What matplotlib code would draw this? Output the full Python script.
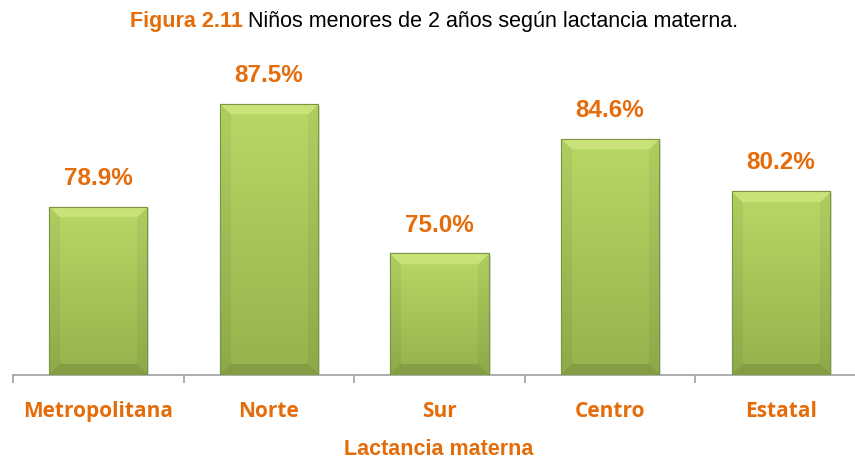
import matplotlib
matplotlib.use("Agg")
import matplotlib.pyplot as plt
import numpy as np

regions = ["Metropolitana", "Norte", "Sur", "Centro", "Estatal"]
values = [78.9, 87.5, 75.0, 84.6, 80.2]
value_labels = ["78.9%", "87.5%", "75.0%", "84.6%", "80.2%"]

ORANGE = "#e46c0a"
NARROW = ["Liberation Sans", "DejaVu Sans"]
LABEL_FONT = ["Open Sans", "DejaVu Sans"]

fig = plt.figure(figsize=(8.55, 4.61), dpi=100)
W, H = 855, 461
ax = fig.add_axes([13 / W, 86 / H, 853 / W, 301 / H])
ymin, ymax = 64.8, 90.0
ax.set_xlim(-0.5, len(regions) - 0.5)
ax.set_ylim(ymin, ymax)

x = np.arange(len(regions))
bar_w = 0.575


def bevel_image(wpx, hpx, bevel=11):
    hpx = max(int(hpx), 2)
    wpx = max(int(wpx), 2)
    top = np.array([0.72, 0.85, 0.40])
    bot = np.array([0.58, 0.70, 0.30])
    t = np.linspace(0, 1, hpx)[:, None, None]
    img = top * (1 - t) + bot * t
    img = np.repeat(img, wpx, axis=1)
    yy, xx = np.mgrid[0:hpx, 0:wpx]
    d_top = yy
    d_bot = hpx - 1 - yy
    d_left = xx
    d_right = wpx - 1 - xx
    dmin = np.minimum.reduce([d_top, d_bot, d_left, d_right])
    edge = dmin < bevel
    top_face = edge & (d_top == dmin)
    bot_face = edge & (d_bot == dmin) & ~top_face
    side_face = edge & ~top_face & ~bot_face
    img[top_face] = img[top_face] * 0.55 + np.array([0.88, 0.95, 0.58]) * 0.45
    img[side_face] = img[side_face] * 0.95
    img[bot_face] = img[bot_face] * 0.88
    return img


fig.canvas.draw()
px_per_x = ax.transData.transform((1, 0))[0] - ax.transData.transform((0, 0))[0]
px_per_y = ax.transData.transform((0, 1))[1] - ax.transData.transform((0, 0))[1]

bars = ax.bar(x, np.array(values) - ymin, bottom=ymin, width=bar_w,
              color="#a9cc5a", edgecolor="#7d9440", linewidth=0.8, zorder=2)
for b in bars:
    # soft shadow
    ax.add_patch(plt.Rectangle((b.get_x() + 0.012, ymin), b.get_width(), b.get_height() - 0.15,
                               facecolor="#000000", alpha=0.12, edgecolor="none", zorder=1))
    img = bevel_image(b.get_width() * px_per_x, b.get_height() * px_per_y)
    im = ax.imshow(img, extent=(b.get_x(), b.get_x() + b.get_width(), ymin, ymin + b.get_height()),
                   aspect="auto", zorder=3, interpolation="bilinear")
    im.set_clip_path(b)
    ax.add_patch(plt.Rectangle((b.get_x(), ymin), b.get_width(), b.get_height(),
                               facecolor="none", edgecolor="#7d9440", linewidth=0.8, zorder=4))

for xi, v, lab in zip(x, values, value_labels):
    ax.annotate(lab, (xi, v), xytext=(0, 12), textcoords="offset points",
                ha="center", va="bottom", color=ORANGE, fontsize=17.5,
                fontweight="bold", family=NARROW)

for s in ["top", "right", "left"]:
    ax.spines[s].set_visible(False)
ax.spines["bottom"].set_color("#a0a0a0")
ax.spines["bottom"].set_linewidth(1.2)
ax.set_yticks([])
ax.set_xticks(x)
ax.set_xticklabels(regions, color=ORANGE, fontsize=15, fontweight="bold", family=LABEL_FONT)
ax.tick_params(axis="x", which="major", length=0, pad=19)
ax.set_xticks(np.arange(-0.5, len(regions)), minor=True)
ax.tick_params(axis="x", which="minor", length=6, width=1.2, color="#a0a0a0")

fig.text(439 / W, 1 - 449 / H, "Lactancia materna", color=ORANGE, fontsize=15.5,
         fontweight="bold", family=NARROW, ha="center", va="center")

t1 = fig.text(130 / W, 1 - 22 / H, "Figura 2.11", color=ORANGE, fontsize=15.5,
              fontweight="bold", family=NARROW, va="center", ha="left")
fig.canvas.draw()
bb = t1.get_window_extent()
fig.text(bb.x1 / W + 5 / W, 1 - 22 / H, "Niños menores de 2 años según lactancia materna.",
         color="black", fontsize=15.5, family=NARROW, va="center", ha="left")

fig.savefig("out.png", dpi=100)
